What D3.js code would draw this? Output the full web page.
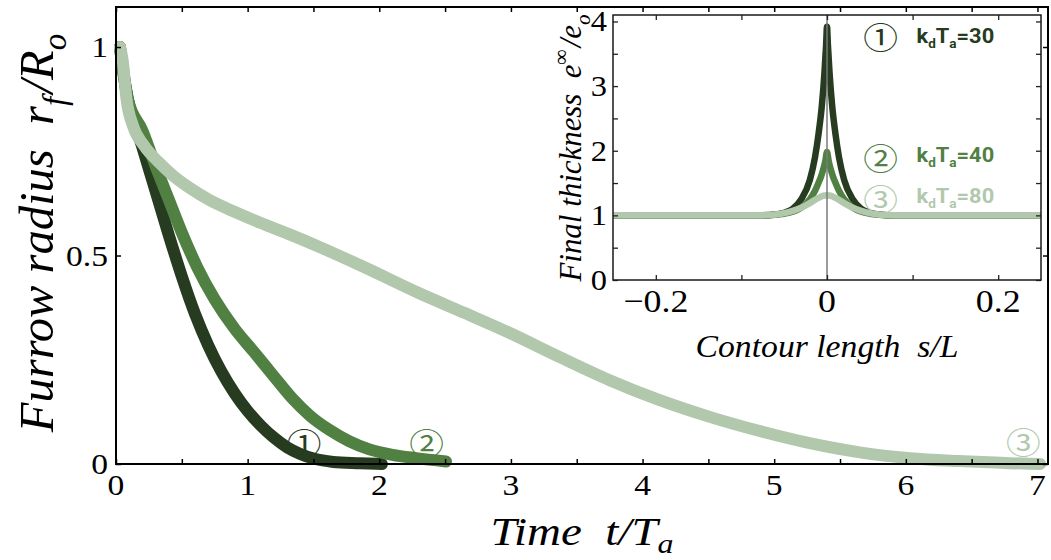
<!DOCTYPE html>
<html><head><meta charset="utf-8">
<script src="https://cdn.jsdelivr.net/npm/d3@7"></script>
<style>
html,body{margin:0;padding:0;background:#fff;}
svg{display:block;}
text{white-space:pre;font-family:"Liberation Serif","Times New Roman",serif;}
text.sans{font-family:Roboto,"Liberation Sans",sans-serif;}
text.cjk{font-family:"Noto Sans CJK JP","DejaVu Sans",sans-serif;}
</style></head><body>
<svg id="chart" width="1051" height="560"></svg>
<script>
// ---------- data: main plot (furrow radius vs time) ----------
const timeDark   = [0.03, 0.06, 0.09, 0.20, 0.30, 0.40, 0.50, 0.60, 0.70, 0.80, 0.90, 1.00, 1.10, 1.20, 1.30, 1.40, 1.50, 1.65, 1.85, 2.02];
const radiusDark = [1.00, 0.93, 0.875, 0.76, 0.655, 0.55, 0.45, 0.36, 0.285, 0.222, 0.17, 0.127, 0.092, 0.063, 0.040, 0.024, 0.013, 0.005, 0.002, 0.0];

const timeMid    = [0.03, 0.06, 0.09, 0.20, 0.30, 0.40, 0.50, 0.62, 0.75, 0.90, 1.05, 1.20, 1.34, 1.48, 1.62, 1.77, 1.925, 2.10, 2.28, 2.507];
const radiusMid  = [1.00, 0.93, 0.875, 0.80, 0.715, 0.635, 0.555, 0.47, 0.395, 0.325, 0.268, 0.21, 0.157, 0.114, 0.082, 0.055, 0.035, 0.022, 0.014, 0.006];

const timeLight   = [0.03, 0.05, 0.08, 0.13, 0.21, 0.32, 0.44, 0.57, 0.71, 0.90, 1.10, 1.30, 1.55, 1.90, 2.30, 2.65, 3.00, 3.38, 3.75, 4.13, 4.51, 4.89, 5.27, 5.65, 6.03, 6.40, 6.79, 7.02];
const radiusLight = [1.00, 0.97, 0.875, 0.81, 0.765, 0.725, 0.69, 0.66, 0.633, 0.605, 0.578, 0.553, 0.52, 0.47, 0.41, 0.362, 0.313, 0.255, 0.201, 0.153, 0.113, 0.079, 0.050, 0.028, 0.014, 0.007, 0.002, 0.0];

const mainXTicks = [0,0.5,1,1.5,2,2.5,3,3.5,4,4.5,5,5.5,6,6.5,7];
const mainXLabels = [0,1,2,3,4,5,6,7];
const mainYTicks = [0,0.5,1];
const mainYLabels = ["0","0.5","1"];

// ---------- data: inset (final thickness vs contour length) ----------
const sDark     = [-0.25,-0.15,-0.08,-0.06,-0.05,-0.04,-0.03,-0.02,-0.014,-0.01,-0.006,-0.003,-0.001,0,0.001,0.003,0.006,0.01,0.014,0.02,0.03,0.04,0.05,0.06,0.08,0.15,0.25];
const thickDark = [1,1,1.0,1.015,1.04,1.1,1.25,1.55,1.9,2.25,2.7,3.2,3.65,3.92,3.65,3.2,2.7,2.25,1.9,1.55,1.25,1.1,1.04,1.015,1.0,1,1];

const sMid      = [-0.25,-0.15,-0.08,-0.06,-0.05,-0.04,-0.03,-0.02,-0.014,-0.01,-0.007,-0.004,-0.002,0,0.002,0.004,0.007,0.01,0.014,0.02,0.03,0.04,0.05,0.06,0.08,0.15,0.25];
const thickMid  = [1,1,1.0,1.01,1.025,1.055,1.12,1.25,1.38,1.5,1.6,1.73,1.84,1.98,1.84,1.73,1.6,1.5,1.38,1.25,1.12,1.055,1.025,1.01,1.0,1,1];

const sLight     = [-0.25,-0.15,-0.09,-0.07,-0.06,-0.05,-0.04,-0.03,-0.02,-0.01,-0.005,0,0.005,0.01,0.02,0.03,0.04,0.05,0.06,0.07,0.09,0.15,0.25];
const thickLight = [1,1,1.0,1.005,1.015,1.035,1.07,1.12,1.19,1.27,1.30,1.31,1.30,1.27,1.19,1.12,1.07,1.035,1.015,1.005,1.0,1,1];

const insetXTicks = [-0.2,-0.1,0,0.1,0.2];
const insetXLabels = [-0.2,0,0.2];
const insetYTicks = [0,0.5,1,1.5,2,2.5,3,3.5,4];
const insetYLabels = [0,1,2,3,4];

const seriesNames = ["①","②","③"];
const seriesKdTa = ["30","40","80"];
const seriesColors = ["#263b20","#518043","#b2c8ad"];

// ---------- drawing ----------
const svg = d3.select("#chart");
const SX = 1.12;

function stext(parent, o){
  const t = parent.append("text")
    .attr("class", o.cls || null)
    .attr("text-anchor", o.anchor || "start")
    .style("font-size", o.size + "px")
    .style("font-style", o.italic ? "italic" : "normal")
    .style("font-weight", o.weight || "normal")
    .attr("fill", o.fill || "#000");
  if (o.baseline) t.attr("dominant-baseline", o.baseline);
  let cur = 0;
  const subK = o.subShift || 0.28;
  (o.parts || [{t:o.text}]).forEach(p=>{
    const sh = p.sub ? o.size*subK : (p.sup ? -o.size*0.42 : 0);
    const ts = t.append("tspan").text(p.t).attr("dy", sh-cur);
    if (p.dx) ts.attr("dx", p.dx);
    if (p.sub || p.sup) ts.style("font-size", (o.size*(p.scale||0.68)) + "px");
    cur = sh;
  });
  let sLen = SX;
  if (o.target){ const w = t.node().getComputedTextLength(); sLen = o.target / w; }
  if (o.rotate) t.attr("transform", `translate(${o.x},${o.y}) rotate(-90) scale(${sLen},${SX})`);
  else t.attr("transform", `translate(${o.x},${o.y}) scale(${sLen},1)`);
  return t;
}

// main scales
const x = d3.scaleLinear().domain([0,7.08]).range([116,1048]);
const y = d3.scaleLinear().domain([0,1.096]).range([464,7]);

const mainLine = d3.line().x(d=>x(d[0])).y(d=>y(d[1])).curve(d3.curveMonotoneX);
const mainSeries = [
  d3.zip(timeDark, radiusDark),
  d3.zip(timeMid, radiusMid),
  d3.zip(timeLight, radiusLight)
];
svg.append("g").selectAll("path").data(mainSeries).join("path")
  .attr("d", mainLine)
  .attr("fill","none")
  .attr("stroke",(d,i)=>seriesColors[i])
  .attr("stroke-width",12)
  .attr("stroke-linecap","round")
  .attr("stroke-linejoin","round");

// main frame + ticks
function styleAxis(g){ g.select(".domain").remove(); g.selectAll(".tick line").attr("stroke","#000").attr("stroke-width",1.5); }
svg.append("g").attr("transform","translate(0,464)")
  .call(d3.axisBottom(x).tickValues(mainXTicks).tickSizeInner(-5).tickSizeOuter(0).tickFormat("")).call(styleAxis);
svg.append("g").attr("transform","translate(0,7)")
  .call(d3.axisTop(x).tickValues(mainXTicks).tickSizeInner(-5).tickSizeOuter(0).tickFormat("")).call(styleAxis);
svg.append("g").attr("transform","translate(116,0)")
  .call(d3.axisLeft(y).tickValues(mainYTicks).tickSizeInner(-5).tickSizeOuter(0).tickFormat("")).call(styleAxis);
svg.append("g").attr("transform","translate(1048,0)")
  .call(d3.axisRight(y).tickValues(mainYTicks).tickSizeInner(-5).tickSizeOuter(0).tickFormat("")).call(styleAxis);
svg.append("rect").attr("x",x(0)).attr("y",y(1.096)).attr("width",x(7.08)-x(0)).attr("height",y(0)-y(1.096))
  .attr("fill","none").attr("stroke","#000").attr("stroke-width",2);

// main tick labels
mainXLabels.forEach(v=> stext(svg,{x:x(v), y:y(0)+31, anchor:"middle", size:30, text:String(v)}));
mainYTicks.forEach((v,i)=> stext(svg,{x:x(0)-8, y:y(v)+10, anchor:"end", size:30, text:mainYLabels[i]}));

// main titles
stext(svg,{x:582, y:545, anchor:"middle", size:39, italic:true, target:183, subShift:0.2,
  parts:[{t:"Time  t/T"},{t:"a",sub:true}]});
stext(svg,{x:53, y:233, anchor:"middle", size:43, italic:true, rotate:true, target:395,
  parts:[{t:"Furrow radius  r"},{t:"f",sub:true},{t:"/R",dx:3},{t:"o",sub:true}]});

// main circled labels
const mainMarkPos = [[304,441],[426.7,441],[1023.3,440]];
mainMarkPos.forEach((p,i)=> stext(svg,{x:p[0], y:p[1], anchor:"middle", size:31, cls:"cjk", baseline:"central", fill:seriesColors[i], text:seriesNames[i]}));

// ---------- inset ----------
const xi = d3.scaleLinear().domain([-0.25,0.25]).range([613,1041]);
const yi = d3.scaleLinear().domain([0,4.1]).range([280,15]);

svg.append("rect").attr("x",xi(-0.25)).attr("y",yi(4.1)).attr("width",xi(0.25)-xi(-0.25)).attr("height",yi(0)-yi(4.1)).attr("fill","#fff");

const insetLine = d3.line().x(d=>xi(d[0])).y(d=>yi(d[1])).curve(d3.curveMonotoneX);
const insetSeries = [d3.zip(sDark,thickDark), d3.zip(sMid,thickMid), d3.zip(sLight,thickLight)];
svg.append("g").selectAll("path").data(insetSeries).join("path")
  .attr("d", insetLine)
  .attr("fill","none")
  .attr("stroke",(d,i)=>seriesColors[i])
  .attr("stroke-width",6.5)
  .attr("stroke-linecap","butt")
  .attr("stroke-linejoin","round");

svg.append("line").attr("x1",xi(0)).attr("x2",xi(0)).attr("y1",yi(0)).attr("y2",yi(4.1))
  .attr("stroke","#7a7a7a").attr("stroke-width",1.5);

function styleAxisI(g){ g.select(".domain").remove(); g.selectAll(".tick line").attr("stroke","#222").attr("stroke-width",1.3); }
svg.append("g").attr("transform",`translate(0,${yi(0)})`)
  .call(d3.axisBottom(xi).tickValues(insetXTicks).tickSizeInner(-5).tickSizeOuter(0).tickFormat("")).call(styleAxisI);
svg.append("g").attr("transform",`translate(0,${yi(4.1)})`)
  .call(d3.axisTop(xi).tickValues(insetXTicks).tickSizeInner(-5).tickSizeOuter(0).tickFormat("")).call(styleAxisI);
svg.append("g").attr("transform",`translate(${xi(-0.25)},0)`)
  .call(d3.axisLeft(yi).tickValues(insetYTicks).tickSizeInner(-5).tickSizeOuter(0).tickFormat("")).call(styleAxisI);
svg.append("g").attr("transform",`translate(${xi(0.25)},0)`)
  .call(d3.axisRight(yi).tickValues(insetYTicks).tickSizeInner(-5).tickSizeOuter(0).tickFormat("")).call(styleAxisI);
svg.append("rect").attr("x",xi(-0.25)).attr("y",yi(4.1)).attr("width",xi(0.25)-xi(-0.25)).attr("height",yi(0)-yi(4.1))
  .attr("fill","none").attr("stroke","#1a1a1a").attr("stroke-width",1.5);

// inset tick labels
const fmtS = v => v===0 ? "0" : (v<0 ? "\u2212" : "") + Math.abs(v);
insetXLabels.forEach(v=> stext(svg,{x:xi(v), y:yi(0)+32, anchor:"middle", size:32, text:fmtS(v)}));
insetYLabels.forEach(v=> stext(svg,{x:xi(-0.25)-6, y:yi(v)+10, anchor:"end", size:29, text:String(v)}));

// inset titles
stext(svg,{x:827, y:357, anchor:"middle", size:32, italic:true, target:263,
  parts:[{t:"Contour length  s/L"}]});
stext(svg,{x:581, y:148, anchor:"middle", size:28, italic:true, rotate:true, target:265,
  parts:[{t:"Final thickness  e"},{t:"\u221E",sup:true},{t:"/e",dx:2},{t:"o",sub:true}]});

// inset legend
const legendY = [35.3, 155.5, 196.7];
const legendBase = [42.7, 161.7, 202.5];
legendY.forEach((ly,i)=>{
  stext(svg,{x:880.7, y:ly, anchor:"middle", size:31, cls:"cjk", baseline:"central", fill:seriesColors[i], text:seriesNames[i]});
  stext(svg,{x:916.5, y:legendBase[i], anchor:"start", size:19.5, cls:"sans", weight:"bold", fill:seriesColors[i],
    parts:[{t:"k"},{t:"d",sub:true,scale:0.62},{t:"T"},{t:"a",sub:true,scale:0.62},{t:"="+seriesKdTa[i]}]});
});
</script>
</body></html>
